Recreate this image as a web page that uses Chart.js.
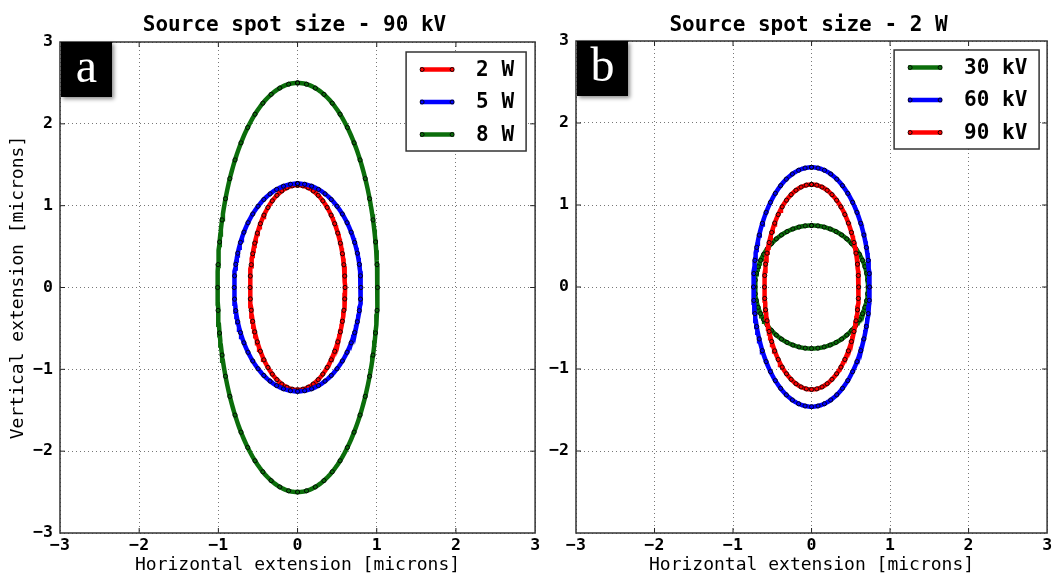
<!DOCTYPE html>
<html>
<head>
<meta charset="utf-8">
<script src="https://cdn.jsdelivr.net/npm/chart.js@4/dist/chart.umd.min.js"></script>
<style>
    body { margin: 0; background: #fff; width: 1052px; height: 574px; overflow: hidden; position: relative; }
    .panel { position: absolute; top: 0; height: 574px; }
    #wrapA { left: 0; width: 540px; }
    #wrapB { left: 540px; width: 512px; }
</style>
</head>
<body>
<div class="panel" id="wrapA"><canvas id="grafA"></canvas></div>
<div class="panel" id="wrapB"><canvas id="grafB"></canvas></div>
<script>
// ===== DATOS =====
const ejeMin = -3
const ejeMax = 3

// (a) 90 kV, potencia variable: semiejes de cada elipse [micras]
const seriesPotencia = ["2 W", "5 W", "8 W"]
const anchoPotencia = [0.60, 0.80, 1.01]
const altoPotencia = [1.25, 1.27, 2.50]

// (b) 2 W, voltaje variable
const seriesVoltaje = ["30 kV", "60 kV", "90 kV"]
const anchoVoltaje = [0.72, 0.74, 0.60]
const altoVoltaje = [0.75, 1.46, 1.25]

const coloresPotencia = ["#ff0000", "#0000ff", "#0b6e0b"]
const coloresVoltaje = ["#0b6e0b", "#0000ff", "#ff0000"]

const MONO = "'DejaVu Sans Mono', monospace"

// contorno de una elipse centrada en el origen
function contorno(a, b, n) {
    const pts = []
    for (let i = 0; i <= n; i++) {
        const t = 2 * Math.PI * i / n
        pts.push({ x: a * Math.sin(t), y: b * Math.cos(t) })
    }
    return pts
}

function armarDatasets(nombres, anchos, altos, colores) {
    const ds = []
    nombres.forEach(function(nombre, i) {
        const orden = (nombres.length - i) * 2
        ds.push({
            label: nombre,
            data: contorno(anchos[i], altos[i], 240),
            showLine: true,
            borderColor: colores[i],
            borderWidth: 4.5,
            pointRadius: 0,
            order: orden
        })
        // marcadores negros sobre la curva
        ds.push({
            label: nombre + "_pts",
            data: contorno(anchos[i], altos[i], 56),
            showLine: false,
            pointRadius: 2.1,
            pointBorderWidth: 0.9,
            pointBorderColor: "#000",
            pointBackgroundColor: "rgba(0,0,0,0)",
            order: orden - 1
        })
    })
    return ds
}

const fmt = v => (v < 0 ? "\u2212" + Math.abs(v) : String(v))

// titulo centrado sobre el area, marco, ticks interiores, leyenda y etiqueta de panel
const decoracion = {
    id: "decoracion",
    afterDraw(chart, args, opts) {
        const ctx = chart.ctx
        const ca = chart.chartArea
        const sx = chart.scales.x, sy = chart.scales.y
        ctx.save()

        ctx.fillStyle = "#000"
        ctx.font = "bold 21px " + MONO
        ctx.textAlign = "center"
        ctx.textBaseline = "middle"
        ctx.fillText(opts.titulo, (ca.left + ca.right) / 2 - 3, 26)

        // ticks hacia adentro en los cuatro lados
        ctx.strokeStyle = "#222"
        ctx.lineWidth = 1
        ctx.beginPath()
        for (let v = ejeMin + 1; v < ejeMax; v++) {
            const px = sx.getPixelForValue(v), py = sy.getPixelForValue(v)
            ctx.moveTo(px, ca.bottom); ctx.lineTo(px, ca.bottom - 5)
            ctx.moveTo(px, ca.top); ctx.lineTo(px, ca.top + 5)
            ctx.moveTo(ca.left, py); ctx.lineTo(ca.left + 5, py)
            ctx.moveTo(ca.right, py); ctx.lineTo(ca.right - 5, py)
        }
        ctx.stroke()

        // marco
        ctx.strokeStyle = "#333"
        ctx.lineWidth = 1.5
        ctx.strokeRect(ca.left, ca.top, ca.right - ca.left, ca.bottom - ca.top)

        // leyenda
        const bx = ca.right - opts.derecha, by = ca.top + opts.arriba
        ctx.fillStyle = "#fff"
        ctx.fillRect(bx, by, opts.ancho, 99)
        ctx.strokeStyle = "#333"
        ctx.lineWidth = 1.5
        ctx.strokeRect(bx, by, opts.ancho, 99)
        ctx.font = "bold 21px " + MONO
        ctx.textBaseline = "middle"
        ctx.textAlign = "left"
        opts.nombres.forEach(function(nombre, i) {
            const y = by + 17.5 + i * 32.5
            ctx.strokeStyle = opts.colores[i]
            ctx.lineWidth = 4.5
            ctx.beginPath()
            ctx.moveTo(bx + 14, y); ctx.lineTo(bx + 48, y)
            ctx.stroke()
            ctx.strokeStyle = "#000"
            ctx.lineWidth = 0.9
            ;[bx + 16, bx + 46].forEach(function(mx) {
                ctx.beginPath(); ctx.arc(mx, y, 2, 0, 2 * Math.PI); ctx.stroke()
            })
            ctx.fillStyle = "#000"
            ctx.fillText(nombre, bx + 70, y + 1)
        })

        // etiqueta del panel
        ctx.shadowColor = "rgba(0,0,0,0.45)"
        ctx.shadowBlur = 4
        ctx.shadowOffsetX = 2
        ctx.shadowOffsetY = 2
        ctx.fillStyle = "#000"
        ctx.fillRect(ca.left + 1, ca.top, 51, 55)
        ctx.shadowColor = "rgba(0,0,0,0)"
        ctx.fillStyle = "#fff"
        ctx.font = "48px 'Liberation Serif', serif"
        ctx.textAlign = "center"
        ctx.textBaseline = "alphabetic"
        ctx.fillText(opts.letra, ca.left + 26.5, ca.top + 40)
        ctx.restore()
    }
}

function crearGrafico(id, titulo, nombres, anchos, altos, colores, conf) {
    const ctx = document.getElementById(id).getContext("2d")
    return new Chart(ctx, {
        type: "scatter",
        data: { datasets: armarDatasets(nombres, anchos, altos, colores) },
        options: {
            responsive: true,
            maintainAspectRatio: false,
            animation: false,
            layout: { padding: { left: 0, right: conf.padDer, top: conf.padArriba, bottom: 0 } },
            plugins: {
                legend: { display: false },
                tooltip: { enabled: false },
                title: { display: false },
                decoracion: {
                    titulo: titulo, nombres: nombres, colores: colores, letra: conf.letra,
                    derecha: conf.legDer, arriba: conf.legArriba, ancho: conf.legAncho
                }
            },
            scales: {
                x: {
                    type: "linear",
                    min: ejeMin, max: ejeMax,
                    afterFit(s) { s.height = 41; s.paddingLeft = 0; s.paddingRight = 0 },
                    ticks: {
                        stepSize: 1, color: "#000", padding: 3, maxRotation: 0,
                        font: { family: MONO, size: 16.5, weight: "bold" },
                        callback: v => fmt(v)
                    },
                    grid: { color: "#777", lineWidth: 1, drawTicks: false },
                    border: { display: false, dash: [1, 3] },
                    title: {
                        display: true,
                        text: "Horizontal extension [microns]",
                        color: "#000",
                        font: { family: MONO, size: 18, lineHeight: 1 },
                        padding: { top: 0, bottom: 0 }
                    }
                },
                y: {
                    type: "linear",
                    min: ejeMin, max: ejeMax,
                    afterFit(s) { s.width = conf.anchoY; s.paddingTop = 0; s.paddingBottom = 0 },
                    ticks: {
                        stepSize: 1, color: "#000", padding: 7,
                        font: { family: MONO, size: 16.5, weight: "bold" },
                        callback: v => (conf.ocultarMinY && v === ejeMin ? "" : fmt(v))
                    },
                    grid: { color: "#777", lineWidth: 1, drawTicks: false },
                    border: { display: false, dash: [1, 3] },
                    title: {
                        display: conf.tituloY,
                        text: "Vertical extension [microns]",
                        color: "#000",
                        font: { family: MONO, size: 18 },
                        padding: { top: 8, bottom: 0 }
                    }
                }
            }
        },
        plugins: [decoracion]
    })
}

crearGrafico("grafA", "Source spot size - 90 kV", seriesPotencia, anchoPotencia, altoPotencia, coloresPotencia, {
    letra: "a", padDer: 4, padArriba: 42, anchoY: 60, tituloY: true, ocultarMinY: false,
    legDer: 129, legArriba: 10, legAncho: 120
})

crearGrafico("grafB", "Source spot size - 2 W", seriesVoltaje, anchoVoltaje, altoVoltaje, coloresVoltaje, {
    letra: "b", padDer: 2, padArriba: 41, anchoY: 36, tituloY: false, ocultarMinY: true,
    legDer: 153, legArriba: 9, legAncho: 145
})
</script>
</body>
</html>
